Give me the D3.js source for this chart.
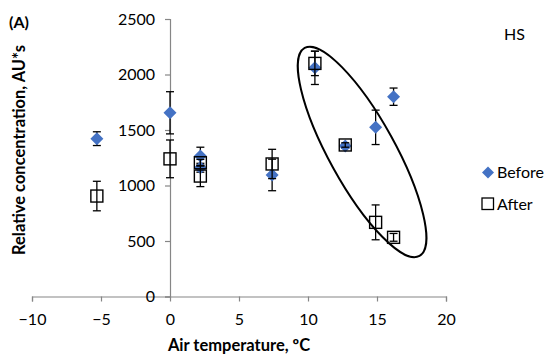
<!DOCTYPE html>
<html><head><meta charset="utf-8">
<script src="https://cdn.jsdelivr.net/npm/d3@7"></script>
<style>
body{margin:0;background:#fff;}
svg text{font-family:Lato,"Open Sans",sans-serif;fill:#000;}
</style></head>
<body><svg id="c" width="550" height="360"></svg>
<script>
// Data (air temperature °C, relative concentration AU*s, error)
const beforeX   = [-5.3, 0, 2.2, 2.2, 7.4, 10.5, 12.7, 14.9, 16.2];
const beforeY   = [1422, 1655, 1265, 1160, 1095, 2060, 1355, 1524, 1800];
const beforeErr = [62, 190, 80, 40, 142, 150, 20, 155, 78];

const afterX    = [-5.3, 0, 2.2, 2.2, 7.4, 10.5, 12.7, 14.9, 16.2];
const afterY    = [905, 1240, 1205, 1085, 1194, 2100, 1365, 668, 533];
const afterErr  = [133, 170, 30, 95, 132, 110, 20, 157, 35];

const xTicks = [-10, -5, 0, 5, 10, 15, 20];
const yTicks = [0, 500, 1000, 1500, 2000, 2500];
const seriesNames = ["Before", "After"];
const panelLabel = "(A)";
const groupLabel = "HS";
const xTitle = "Air temperature, ºC";
const yTitle = "Relative concentration, AU*s";
// annotation ellipse (data units): two ends of the long axis
const ellipseEnds = [[9.76, 2239], [18.08, 365]];

const svg = d3.select("#c");
const x = d3.scaleLinear().domain([-10, 20]).range([32, 446]);
const y = d3.scaleLinear().domain([0, 2500]).range([296.5, 19]);
const blue = "#4472C4", axisCol = "#868686";

// axes
const xAxis = svg.append("g").attr("transform", `translate(0,${y(0)})`)
  .call(d3.axisBottom(x).tickValues(xTicks).tickSize(5).tickPadding(12).tickFormat(d3.format("d")));
const yAxis = svg.append("g").attr("transform", `translate(${x(0)},0)`)
  .call(d3.axisLeft(y).tickValues(yTicks).tickSize(5).tickPadding(10).tickFormat(d3.format("d")));
[xAxis, yAxis].forEach(g => {
  g.select(".domain").attr("stroke", axisCol).attr("stroke-width", 1.2);
  g.selectAll(".tick line").attr("stroke", axisCol).attr("stroke-width", 1.2);
  g.selectAll("text").attr("font-size", 16).attr("font-family", "Lato, sans-serif").attr("fill", "#000");
});

// ellipse annotation
{
  const p1 = [x(ellipseEnds[0][0]), y(ellipseEnds[0][1])];
  const p2 = [x(ellipseEnds[1][0]), y(ellipseEnds[1][1])];
  const cx = (p1[0] + p2[0]) / 2, cy = (p1[1] + p2[1]) / 2;
  const a = Math.hypot(p2[0] - p1[0], p2[1] - p1[1]) / 2;
  const ang = Math.atan2(p2[1] - p1[1], p2[0] - p1[0]) * 180 / Math.PI;
  svg.append("ellipse").attr("cx", cx).attr("cy", cy).attr("rx", a).attr("ry", 33)
    .attr("transform", `rotate(${ang},${cx},${cy})`)
    .attr("fill", "none").attr("stroke", "#000").attr("stroke-width", 2);
}

function errorBars(xs, ys, es) {
  const g = svg.append("g").attr("stroke", "#000").attr("stroke-width", 1.3);
  xs.forEach((xv, i) => {
    const px = x(xv), t = y(ys[i] + es[i]), b = y(ys[i] - es[i]);
    g.append("line").attr("x1", px).attr("x2", px).attr("y1", t).attr("y2", b);
    g.append("line").attr("x1", px - 4).attr("x2", px + 4).attr("y1", t).attr("y2", t);
    g.append("line").attr("x1", px - 4).attr("x2", px + 4).attr("y1", b).attr("y2", b);
  });
}
const diamond = (cx, cy, r) => `M${cx},${cy - r}L${cx + r},${cy}L${cx},${cy + r}L${cx - r},${cy}Z`;

// Before series
errorBars(beforeX, beforeY, beforeErr);
svg.append("g").selectAll("path").data(beforeX).join("path")
  .attr("d", (d, i) => diamond(x(d), y(beforeY[i]), 6.5)).attr("fill", blue);

// After series
errorBars(afterX, afterY, afterErr);
svg.append("g").selectAll("rect").data(afterX).join("rect")
  .attr("x", d => x(d) - 6).attr("y", (d, i) => y(afterY[i]) - 6)
  .attr("width", 12).attr("height", 12)
  .attr("fill", "none").attr("stroke", "#000").attr("stroke-width", 1.4);

// legend
const lg = svg.append("g");
lg.append("path").attr("d", diamond(488, 172.5, 6)).attr("fill", blue);
lg.append("rect").attr("x", 482).attr("y", 198).attr("width", 11.5).attr("height", 11.5)
  .attr("fill", "#fff").attr("stroke", "#000").attr("stroke-width", 1.3);
lg.append("text").attr("x", 497).attr("y", 178).attr("font-size", 16).text(seriesNames[0]);
lg.append("text").attr("x", 497).attr("y", 210).attr("font-size", 16).text(seriesNames[1]);

// texts
svg.append("text").attr("x", 9).attr("y", 28).attr("font-size", 16).attr("font-weight", "bold").text(panelLabel);
svg.append("text").attr("x", 504).attr("y", 40).attr("font-size", 16).text(groupLabel);
svg.append("text").attr("x", (x(-10) + x(20)) / 2).attr("y", 351).attr("text-anchor", "middle")
  .attr("font-size", 16.5).attr("font-weight", "bold").text(xTitle);
svg.append("text").attr("transform", `translate(25,${150}) rotate(-90)`).attr("text-anchor", "middle")
  .attr("font-size", 16.5).attr("font-weight", "bold").text(yTitle);
</script></body></html>
